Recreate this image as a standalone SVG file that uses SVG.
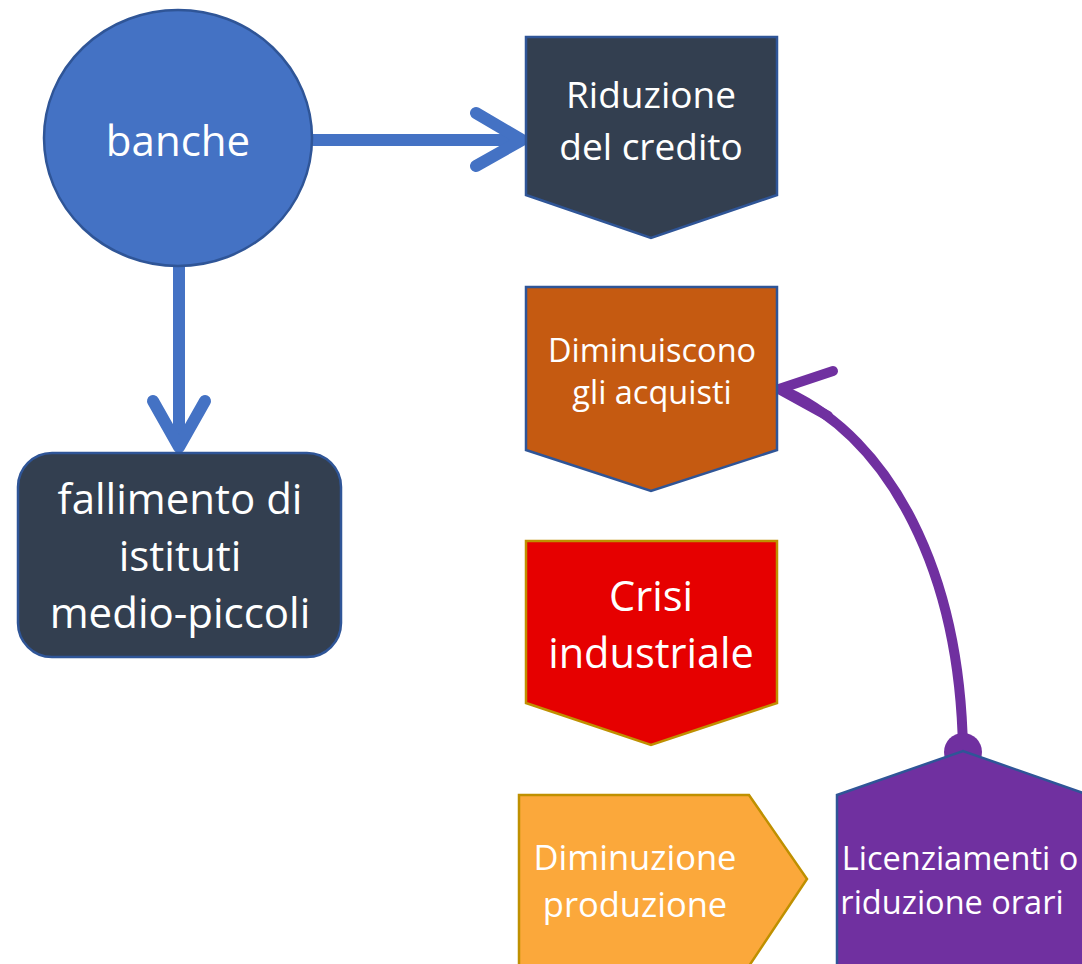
<svg xmlns="http://www.w3.org/2000/svg" width="1082" height="964" viewBox="0 0 1082 964">
<style>
.t{font-family:"Open Sans","Noto Sans","DejaVu Sans",sans-serif;fill:#ffffff;text-anchor:middle}
.blue{stroke:#2F5597;stroke-width:2.5}
.gold{stroke:#BF9000;stroke-width:2.5}
.conB{fill:none;stroke:#4472C4;stroke-width:12;stroke-linecap:round;stroke-linejoin:round}
.conP{fill:none;stroke:#7030A0;stroke-width:10;stroke-linecap:round;stroke-linejoin:round}
</style>
<rect width="1082" height="964" fill="#ffffff"/>
<g id="connectors">
<path class="conB" d="M313 140 H518"/>
<path class="conB" d="M476 113 L522 140 L476 166"/>
<path class="conB" d="M179 266 V445"/>
<path class="conB" d="M153 401 L179 447 L205 401"/>
<path class="conP" d="M963 750 C960 570 890 440 787 392"/>
<path class="conP" d="M833 371 L779 389 L828 416"/>
<circle cx="963" cy="752" r="19" fill="#7030A0"/>
</g>
<g id="banche">
<ellipse cx="178" cy="138" rx="134" ry="128" fill="#4472C4" class="blue"/>
<text class="t" x="178" y="156" font-size="42">banche</text>
</g>
<g id="fallimento">
<rect x="18" y="453" width="323" height="204" rx="34" fill="#333F50" class="blue"/>
<text class="t" x="180" y="514" font-size="42">fallimento di</text>
<text class="t" x="180" y="571" font-size="42">istituti</text>
<text class="t" x="180" y="628" font-size="42">medio-piccoli</text>
</g>
<g id="riduzione">
<path d="M526 37 H777 V195 L651 238 L526 195 Z" fill="#333F50" class="blue"/>
<text class="t" x="651" y="108" font-size="37">Riduzione</text>
<text class="t" x="651" y="160" font-size="37">del credito</text>
</g>
<g id="diminuiscono">
<path d="M526 287 H777 V450 L651 491 L526 450 Z" fill="#C55A11" class="blue"/>
<text class="t" x="652" y="362" font-size="32.5">Diminuiscono</text>
<text class="t" x="652" y="404" font-size="32.5">gli acquisti</text>
</g>
<g id="crisi">
<path d="M526 541 H777 V703 L651 745 L526 703 Z" fill="#E60000" class="gold"/>
<text class="t" x="651" y="611" font-size="41.5">Crisi</text>
<text class="t" x="651" y="668" font-size="41.5">industriale</text>
</g>
<g id="diminuzione">
<path d="M519 795 H749 L807 879 L749 966 H519 Z" fill="#FBA83B" class="gold"/>
<text class="t" x="635" y="870" font-size="34.5">Diminuzione</text>
<text class="t" x="635" y="917" font-size="34.5">produzione</text>
</g>
<g id="licenziamenti">
<path d="M837 795 L963 751 L1089 795 V966 H837 Z" fill="#7030A0" class="blue"/>
<text class="t" x="960" y="870" font-size="32.5">Licenziamenti o</text>
<text class="t" x="952" y="914" font-size="32.5">riduzione orari</text>
</g>
</svg>
